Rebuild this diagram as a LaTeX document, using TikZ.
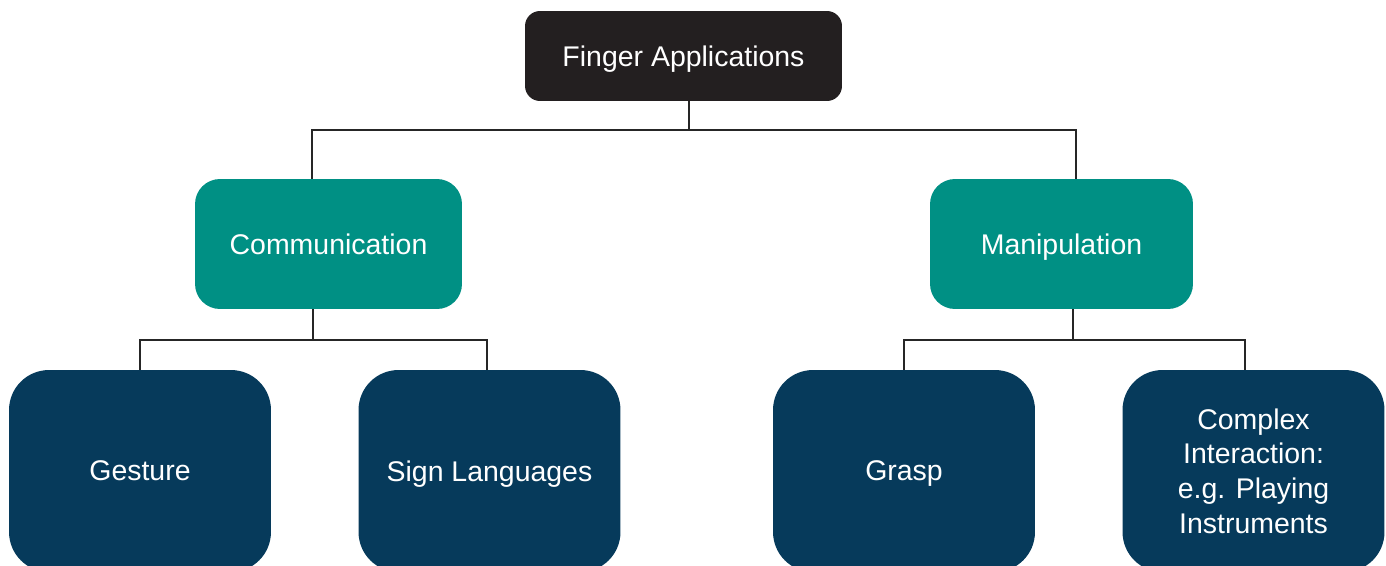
\documentclass[tikz,border=0pt]{standalone}
\usepackage{fontspec}
\setmainfont{Liberation Sans}
\definecolor{rootcol}{HTML}{231F20}
\definecolor{groupcol}{HTML}{009084}
\definecolor{leafcol}{HTML}{063A5B}
\tikzset{
  box/.style={text=white, align=center, inner sep=0pt,
    font=\fontsize{16.2}{19.7}\selectfont},
  oneline/.style={text depth=0pt},
  rootbox/.style={box, oneline, fill=rootcol, rounded corners=0.3cm,
    minimum width=6.34cm, minimum height=1.8cm},
  groupbox/.style={box, oneline, fill=groupcol, rounded corners=0.5cm,
    minimum height=2.6cm},
  leafbox/.style={box, fill=leafcol, rounded corners=0.8cm,
    minimum width=5.24cm, minimum height=4.04cm},
  link/.style={line width=0.6pt, draw=black!85}
}
\begin{document}
\begin{tikzpicture}[x=0.02cm, y=-0.02cm]

% Frame
\useasboundingbox (0,0) rectangle (1386,565);

% Boxes
\node[rootbox] (root) at (683.5,56) {Finger Applications};

\node[groupbox, minimum width=5.34cm] (comm) at (328.5,244) {Communication};
\node[groupbox, minimum width=5.26cm] (manip) at (1061.5,244) {Manipulation};

\node[leafbox, oneline] (gest) at (140,471) {Gesture};
\node[leafbox, oneline] (sign) at (489.5,471) {Sign Languages};
\node[leafbox, oneline] (grasp) at (904,471) {Grasp};
\node[leafbox] (cplx) at (1253.5,471) {Complex\\Interaction:\\e.g. Playing\\Instruments};

% Junctions
\coordinate (j0) at (689,130);
\coordinate (jl) at (312,130);
\coordinate (jr) at (1076,130);
\coordinate (jc) at (313,340);
\coordinate (jm) at (1073,340);
\coordinate (js) at (487,340);
\coordinate (jx) at (1245,340);

% Connectors
\draw[link] (root.south -| j0) -- (j0);
\draw[link] (comm.north -| jl) -- (jl) -- (jr) -- (manip.north -| jr);

\draw[link] (comm.south -| jc) -- (jc);
\draw[link] (gest.north) |- (js) -- (sign.north -| js);

\draw[link] (manip.south -| jm) -- (jm);
\draw[link] (grasp.north) |- (jx) -- (cplx.north -| jx);

\end{tikzpicture}
\end{document}
